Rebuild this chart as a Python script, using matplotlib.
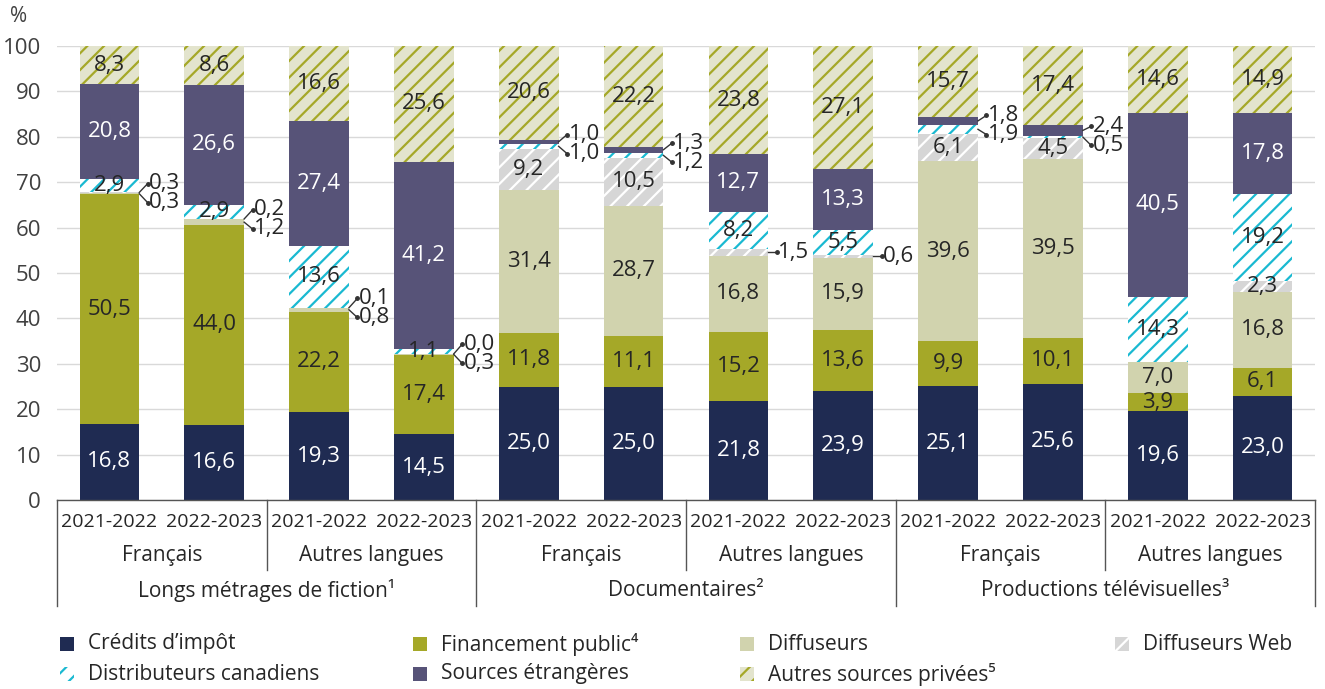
import matplotlib
matplotlib.use("Agg")
import matplotlib.pyplot as plt
from matplotlib.patches import Rectangle
import numpy as np

plt.rcParams['font.family'] = ['Open Sans', 'DejaVu Sans']
plt.rcParams['hatch.linewidth'] = 1.6

# ---------------- data ----------------
years = ['2021-2022', '2022-2023'] * 6
languages = ['Français', 'Autres langues'] * 3
groups = ['Longs métrages de fiction¹', 'Documentaires²', 'Productions télévisuelles³']

credits_impot = [16.8, 16.6, 19.3, 14.5, 25.0, 25.0, 21.8, 23.9, 25.1, 25.6, 19.6, 23.0]
financement_public = [50.5, 44.0, 22.2, 17.4, 11.8, 11.1, 15.2, 13.6, 9.9, 10.1, 3.9, 6.1]
diffuseurs = [0.3, 1.2, 0.8, 0.3, 31.4, 28.7, 16.8, 15.9, 39.6, 39.5, 7.0, 16.8]
diffuseurs_web = [0.3, 0.2, 0.1, 0.0, 9.2, 10.5, 1.5, 0.6, 6.1, 4.5, 0.0, 2.3]
distributeurs = [2.9, 2.9, 13.6, 1.1, 1.0, 1.2, 8.2, 5.5, 1.9, 0.5, 14.3, 19.2]
etrangeres = [20.8, 26.6, 27.4, 41.2, 1.0, 1.3, 12.7, 13.3, 1.8, 2.4, 40.5, 17.8]
autres_privees = [8.3, 8.6, 16.6, 25.6, 20.6, 22.2, 23.8, 27.1, 15.7, 17.4, 14.6, 14.9]

series_names = ['Crédits d’impôt', 'Financement public⁴', 'Diffuseurs', 'Diffuseurs Web',
                'Distributeurs canadiens', 'Sources étrangères', 'Autres sources privées⁵']
series = [credits_impot, financement_public, diffuseurs, diffuseurs_web,
          distributeurs, etrangeres, autres_privees]

# ---------------- styles ----------------
NAVY = '#1f2b52'
OLIVE = '#a5a828'
KHAKI = '#d1d3ae'
GRAYW = '#d6d6d6'
CYAN = '#1ab9d1'
PURPLE = '#575378'
AUTRES_BG = '#e3e4cd'
TXT = '#262626'

styles = [
    dict(facecolor=NAVY, edgecolor=NAVY, hatch=None, txt='white'),
    dict(facecolor=OLIVE, edgecolor=OLIVE, hatch=None, txt=TXT),
    dict(facecolor=KHAKI, edgecolor=KHAKI, hatch=None, txt=TXT),
    dict(facecolor=GRAYW, edgecolor='white', hatch='//', txt=TXT),
    dict(facecolor='white', edgecolor=CYAN, hatch='//', txt=TXT),
    dict(facecolor=PURPLE, edgecolor=PURPLE, hatch=None, txt='white'),
    dict(facecolor=AUTRES_BG, edgecolor=OLIVE, hatch='//', txt=TXT),
]

# callouts: bar index -> list of (series index, position)
callouts = {
    0: [(2, 'down'), (3, 'up')],
    1: [(2, 'down'), (3, 'up')],
    2: [(2, 'down'), (3, 'up')],
    3: [(2, 'down'), (3, 'up')],
    4: [(4, 'down'), (5, 'up')],
    5: [(4, 'down'), (5, 'up')],
    6: [(3, 'mid')],
    7: [(3, 'mid')],
    8: [(4, 'down'), (5, 'up')],
    9: [(4, 'down'), (5, 'up')],
}

W, H = 1325, 689
fig = plt.figure(figsize=(W / 100, H / 100), dpi=100)
ax = fig.add_axes([57 / W, 1 - 500 / H, (1315 - 57) / W, (500 - 46) / H])

x = np.arange(len(years))
bw = 0.57
bottom = np.zeros(len(years))
seg_bottoms = []
for vals, st in zip(series, styles):
    vals = np.array(vals, dtype=float)
    ax.bar(x, vals, bw, bottom=bottom, facecolor=st['facecolor'], edgecolor=st['edgecolor'],
           hatch=st['hatch'], linewidth=0, zorder=2)
    seg_bottoms.append(bottom.copy())
    bottom = bottom + vals

fmt = lambda v: f'{v:.1f}'.replace('.', ',')

# in-bar labels
for si, (vals, st) in enumerate(zip(series, styles)):
    for i, v in enumerate(vals):
        if any(c[0] == si for c in callouts.get(i, [])):
            continue
        if v <= 0:
            continue
        yc = seg_bottoms[si][i] + v / 2
        ax.text(x[i], yc, fmt(v), ha='center', va='center', fontsize=16,
                color=st['txt'], zorder=4)

# callouts
for i, lst in callouts.items():
    edge = x[i] + bw / 2
    for si, pos in lst:
        v = series[si][i]
        yc = seg_bottoms[si][i] + v / 2
        if pos == 'mid':
            ty = yc
        else:
            # boundary between the two callout segments
            sis = [c[0] for c in lst]
            boundary = seg_bottoms[max(sis)][i]
            ty = boundary + (2.1 if pos == 'up' else -2.1)
        dx = 0.08
        ax.plot([edge, edge + dx], [yc, ty], color='#333333', lw=1, zorder=4, clip_on=False)
        ax.plot([edge + dx], [ty], 'o', color='#333333', ms=2.5, zorder=4, clip_on=False)
        ax.text(edge + dx + 0.015, ty, fmt(v), ha='left', va='center', fontsize=16,
                color=TXT, zorder=4, clip_on=False)

ax.set_xlim(-0.5, 11.5)
ax.set_ylim(0, 100)
ax.set_yticks(np.arange(0, 101, 10))
ax.set_xticks([])
ax.tick_params(axis='y', left=False, labelsize=16, pad=8, labelcolor='#404040')
ax.grid(axis='y', color='#d9d9d9', lw=1, zorder=0)
ax.set_axisbelow(True)
for s in ['top', 'right', 'left']:
    ax.spines[s].set_visible(False)
ax.spines['bottom'].set_color('#555555')
ax.spines['bottom'].set_linewidth(1)

# hierarchical x-axis labels
tr = ax.get_xaxis_transform()
ax_h = 500 - 46
def ay(py):
    return (500 - py) / ax_h

for i, yr in enumerate(years):
    ax.text(x[i], ay(522), yr, transform=tr, ha='center', va='center', fontsize=14,
            color=TXT, clip_on=False)
for j, lang in enumerate(languages):
    ax.text(2 * j + 0.5, ay(556), lang, transform=tr, ha='center', va='center', fontsize=15,
            color=TXT, clip_on=False)
for k, g in enumerate(groups):
    ax.text(4 * k + 1.5, ay(590), g, transform=tr, ha='center', va='center', fontsize=15,
            color=TXT, clip_on=False)

for xs in [-0.5, 3.5, 7.5, 11.5]:
    ax.plot([xs, xs], [0, ay(606)], transform=tr, color='#555555', lw=1, clip_on=False)
for xs in [1.5, 5.5, 9.5]:
    ax.plot([xs, xs], [0, ay(570)], transform=tr, color='#555555', lw=1, clip_on=False)

fig.text(10 / W, 1 - 16 / H, '%', fontsize=15, color='#404040', ha='left', va='center')

# legend (manual)
leg_pos = [(60, 644), (413, 644), (740, 644), (1115, 644),
           (60, 674), (413, 674), (740, 674)]
for (px, py), name, st in zip(leg_pos, series_names, styles):
    sz = 14
    fig.add_artist(Rectangle((px / W, 1 - (py + sz / 2) / H), sz / W, sz / H,
                             transform=fig.transFigure, facecolor=st['facecolor'],
                             edgecolor=st['edgecolor'], hatch=st['hatch'], linewidth=0))
    fig.text((px + 28) / W, 1 - py / H, name, fontsize=15, color=TXT, ha='left', va='center')

fig.savefig('out.png', dpi=100)
